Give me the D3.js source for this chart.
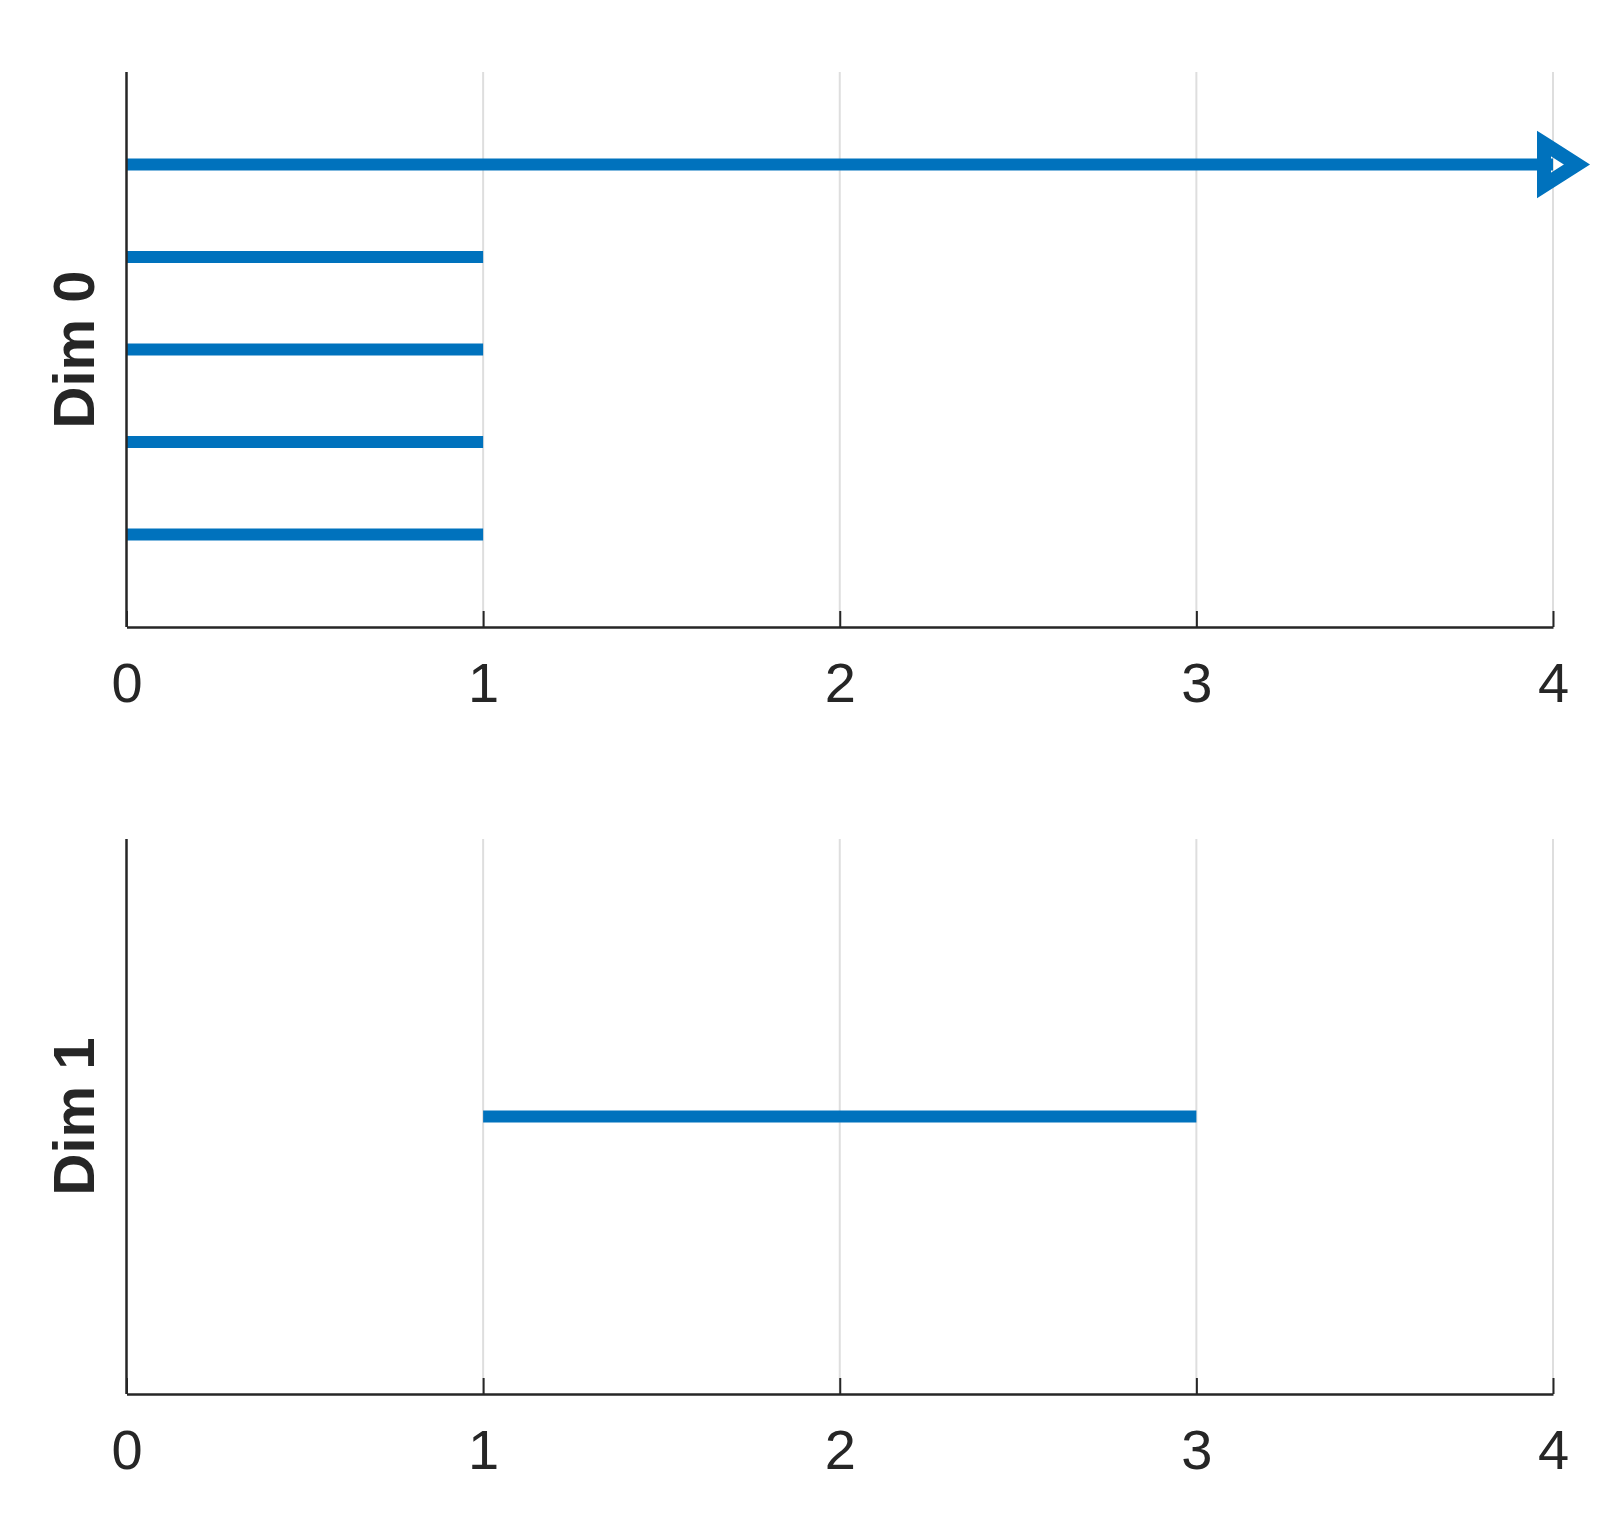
<!DOCTYPE html>
<html>
<head>
<meta charset="utf-8">
<script src="https://cdn.jsdelivr.net/npm/d3@7"></script>
<style>
  body { margin: 0; background: #fff; }
  svg { display: block; }
</style>
</head>
<body>
<svg id="chart"></svg>
<script>
// x ticks shared by both panels
var xTicks = [0, 1, 2, 3, 4];

// Dim 0 segments
var dim0Rows = [5, 4, 3, 2, 1];
var dim0Start = [0, 0, 0, 0, 0];
var dim0End = [4, 1, 1, 1, 1];
var dim0Arrow = [true, false, false, false, false];

// Dim 1 segments
var dim1Rows = [1];
var dim1Start = [1];
var dim1End = [3];
var dim1Arrow = [false];

var width = 1623, height = 1519;
var blue = "#0072BD", ink = "#262626";

var svg = d3.select("#chart")
    .attr("width", width)
    .attr("height", height);

var x = d3.scaleLinear()
    .domain([0, 4])
    .range([126.5, 1553]);

var panels = [
    {label: "Dim 0", top: 72, bottom: 627, ymax: 6,
     rows: dim0Rows, start: dim0Start, end: dim0End, arrow: dim0Arrow},
    {label: "Dim 1", top: 839, bottom: 1394, ymax: 2,
     rows: dim1Rows, start: dim1Start, end: dim1End, arrow: dim1Arrow}
];

panels.forEach(function(p) {
    var y = d3.scaleLinear()
        .domain([0, p.ymax])
        .range([p.bottom, p.top]);

    var g = svg.append("g");

    // grid
    g.append("g")
        .selectAll("line")
        .data(xTicks.filter(d => d > 0))
        .enter().append("line")
        .attr("x1", d => x(d))
        .attr("x2", d => x(d))
        .attr("y1", p.top)
        .attr("y2", p.bottom)
        .attr("stroke", "#dedede")
        .attr("stroke-width", 2);

    var data = p.rows.map(function(r, i) {
        return {row: r, x0: p.start[i], x1: p.end[i], arrow: p.arrow[i]};
    });

    // segments
    g.append("g")
        .selectAll("line")
        .data(data)
        .enter().append("line")
        .attr("x1", d => x(d.x0))
        .attr("x2", d => x(d.x1))
        .attr("y1", d => y(d.row))
        .attr("y2", d => y(d.row))
        .attr("stroke", blue)
        .attr("stroke-width", 12);

    // arrow heads
    g.append("g")
        .selectAll("path")
        .data(data.filter(d => d.arrow))
        .enter().append("path")
        .attr("d", function(d) {
            var px = x(d.x1), py = y(d.row);
            return "M" + (px - 9) + "," + (py - 21) +
                "L" + (px + 24) + "," + py +
                "L" + (px - 9) + "," + (py + 21) + "Z";
        })
        .attr("fill", "none")
        .attr("stroke", blue)
        .attr("stroke-width", 14)
        .attr("stroke-linejoin", "miter");

    // x axis
    var xAxis = g.append("g")
        .attr("transform", `translate(0,${p.bottom})`)
        .call(d3.axisBottom(x).tickValues(xTicks).tickFormat(d3.format("d"))
            .tickSizeInner(-16).tickSizeOuter(0).tickPadding(35));
    xAxis.select(".domain").attr("stroke", ink).attr("stroke-width", 2.5);
    xAxis.selectAll(".tick line").attr("stroke", ink).attr("stroke-width", 2);
    xAxis.selectAll(".tick text")
        .attr("fill", ink)
        .style("font", "56px 'Liberation Sans', Arial, sans-serif");

    // y axis line
    g.append("line")
        .attr("x1", x(0))
        .attr("x2", x(0))
        .attr("y1", p.top)
        .attr("y2", p.bottom)
        .attr("stroke", ink)
        .attr("stroke-width", 2.5);

    // y label
    g.append("text")
        .attr("transform", `translate(94,${(p.top + p.bottom) / 2}) rotate(-90)`)
        .attr("text-anchor", "middle")
        .attr("fill", ink)
        .style("font", "bold 58px 'Liberation Sans', Arial, sans-serif")
        .text(p.label);
});
</script>
</body>
</html>
